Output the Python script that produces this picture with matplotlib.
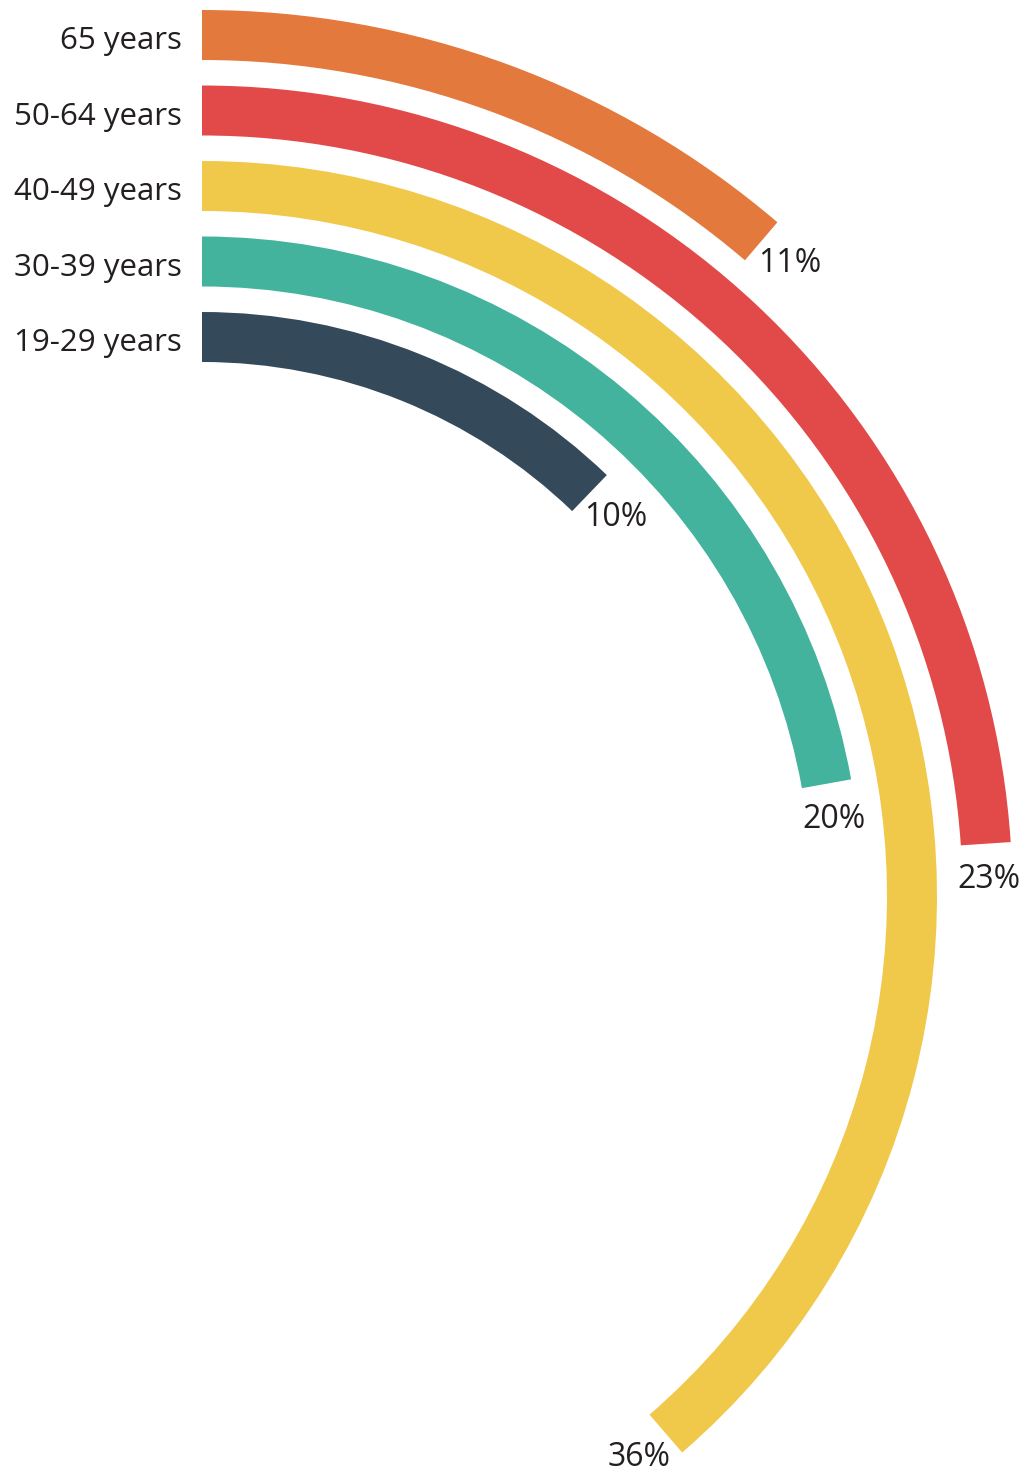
import numpy as np
import matplotlib
matplotlib.use("Agg")
import matplotlib.pyplot as plt

# ---- data ----
categories = ["65 years", "50-64 years", "40-49 years", "30-39 years", "19-29 years"]
label_pct = [11, 23, 36, 20, 10]                  # printed percentages
bar_values = [11.25, 23.94, 38.67, 22.17, 12.19]  # drawn arc length, % of a full turn
colors = ["#E4793D", "#E24A4A", "#F0C84A", "#44B39D", "#344A5B"]

plt.rcParams['font.family'] = ['Open Sans', 'DejaVu Sans']

W, H = 1033, 1479
fig = plt.figure(figsize=(W / 100, H / 100), dpi=100)
fig.patch.set_facecolor("white")

cx, cy = 202, 896          # centre of the rings (pixels)
R = 886                    # outer radius of the outermost ring (pixels)
ax = fig.add_axes([(cx - R) / W, (H - cy - R) / H, 2 * R / W, 2 * R / H], projection='polar')
ax.set_theta_zero_location('N')
ax.set_theta_direction(-1)
ax.set_ylim(0, R)
ax.axis('off')

ring_w = 50
step = 75.5
n = len(categories)
inner = [534 + step * (n - 1 - i) for i in range(n)]

for i in range(n):
    theta = bar_values[i] / 100 * 2 * np.pi
    ax.bar(0, ring_w, width=theta, bottom=inner[i], align='edge',
           color=colors[i], edgecolor='none', clip_on=False)
    rmid = inner[i] + ring_w / 2
    ax.annotate(categories[i], xy=(0, rmid), xytext=(-20, -6), textcoords='offset pixels',
                ha='right', va='center', fontsize=22.5, color='#231f20')
    ax.text(theta + 36 / rmid, rmid + 2, f"{label_pct[i]}%", ha='center', va='center',
            fontsize=23, color='#231f20', clip_on=False)

fig.savefig("out.png", dpi=100, facecolor="white")
